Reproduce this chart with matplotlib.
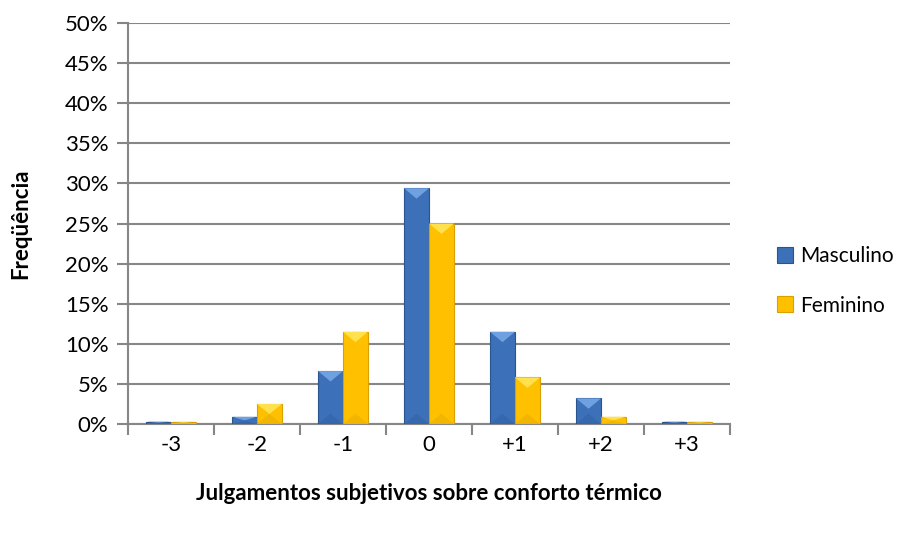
import matplotlib
matplotlib.use("Agg")
import matplotlib.pyplot as plt
import numpy as np
from matplotlib.patches import Polygon

categories = ["-3", "-2", "-1", "0", "+1", "+2", "+3"]
masculino = [0.3, 0.9, 6.6, 29.4, 11.5, 3.2, 0.3]
feminino = [0.3, 2.5, 11.5, 25.0, 5.8, 0.9, 0.3]
series_names = ["Masculino", "Feminino"]
yticks = [0, 5, 10, 15, 20, 25, 30, 35, 40, 45, 50]

plt.rcParams['font.family'] = ['Lato', 'DejaVu Sans']
fig = plt.figure(figsize=(9.08, 5.36), dpi=100)
ax = fig.add_axes([128/908, 1-424/536, (730-128)/908, (424-23)/536])

x = np.arange(len(categories)) + 0.5
w = 0.29
blue = "#3C70B8"
blue_edge = "#2A5490"
yellow = "#FFC000"
yellow_edge = "#D9A000"

b1 = ax.bar(x - w/2, masculino, w, color=blue, edgecolor=blue_edge, linewidth=0.8, zorder=3, label=series_names[0])
b2 = ax.bar(x + w/2, feminino, w, color=yellow, edgecolor=yellow_edge, linewidth=0.8, zorder=3, label=series_names[1])

# bevel highlights derived from bar geometry
def bevel(bars, light, dark):
    for r in bars:
        x0, y0 = r.get_x(), r.get_y()
        bw, bh = r.get_width(), r.get_height()
        d = min(bh / 2, 1.3)
        top = [(x0, y0 + bh), (x0 + bw, y0 + bh), (x0 + bw/2, y0 + bh - d)]
        ax.add_patch(Polygon(top, closed=True, facecolor=light, edgecolor='none', zorder=4))
        bot = [(x0, y0), (x0 + bw, y0), (x0 + bw/2, y0 + d)]
        ax.add_patch(Polygon(bot, closed=True, facecolor=dark, edgecolor='none', alpha=0.2, zorder=4))

bevel(b1, "#6FA0E0", "#1F4A85")
bevel(b2, "#FFE14D", "#C08A00")

ax.set_xlim(0, len(categories))
ax.set_ylim(0, 50)
ax.set_yticks(yticks)
ax.set_yticklabels([f"{t}%" for t in yticks], fontsize=16)
ax.set_xticks(np.arange(len(categories) + 1))
ax.set_xticklabels([])
ax.set_xticks(x, minor=True)
ax.set_xticklabels(categories, minor=True, fontsize=16)
ax.tick_params(axis='x', which='minor', length=0, pad=8)
ax.tick_params(axis='x', which='major', length=8, width=1.5, color="#868686")
ax.tick_params(axis='y', length=8, width=1.5, color="#868686", pad=6)

ax.grid(axis='y', color="#868686", linewidth=1.5, zorder=0)
ax.set_axisbelow(True)
for s in ['top', 'right']:
    ax.spines[s].set_visible(False)
ax.spines['left'].set_color("#868686")
ax.spines['left'].set_linewidth(1.5)
ax.spines['bottom'].set_color("#868686")
ax.spines['bottom'].set_linewidth(1.5)

ax.set_xlabel("Julgamentos subjetivos sobre conforto térmico", fontsize=16, fontweight='bold', labelpad=20)
ax.set_ylabel("Freqüência", fontsize=16, fontweight='bold', labelpad=24)

leg = fig.legend(handles=[b1, b2], labels=series_names, loc='center left',
                 bbox_to_anchor=(758/908, 1-281/536), frameon=False, fontsize=15,
                 handlelength=0.8, handleheight=0.8, handletextpad=0.3, labelspacing=1.4)

fig.savefig("out.png", dpi=100)
